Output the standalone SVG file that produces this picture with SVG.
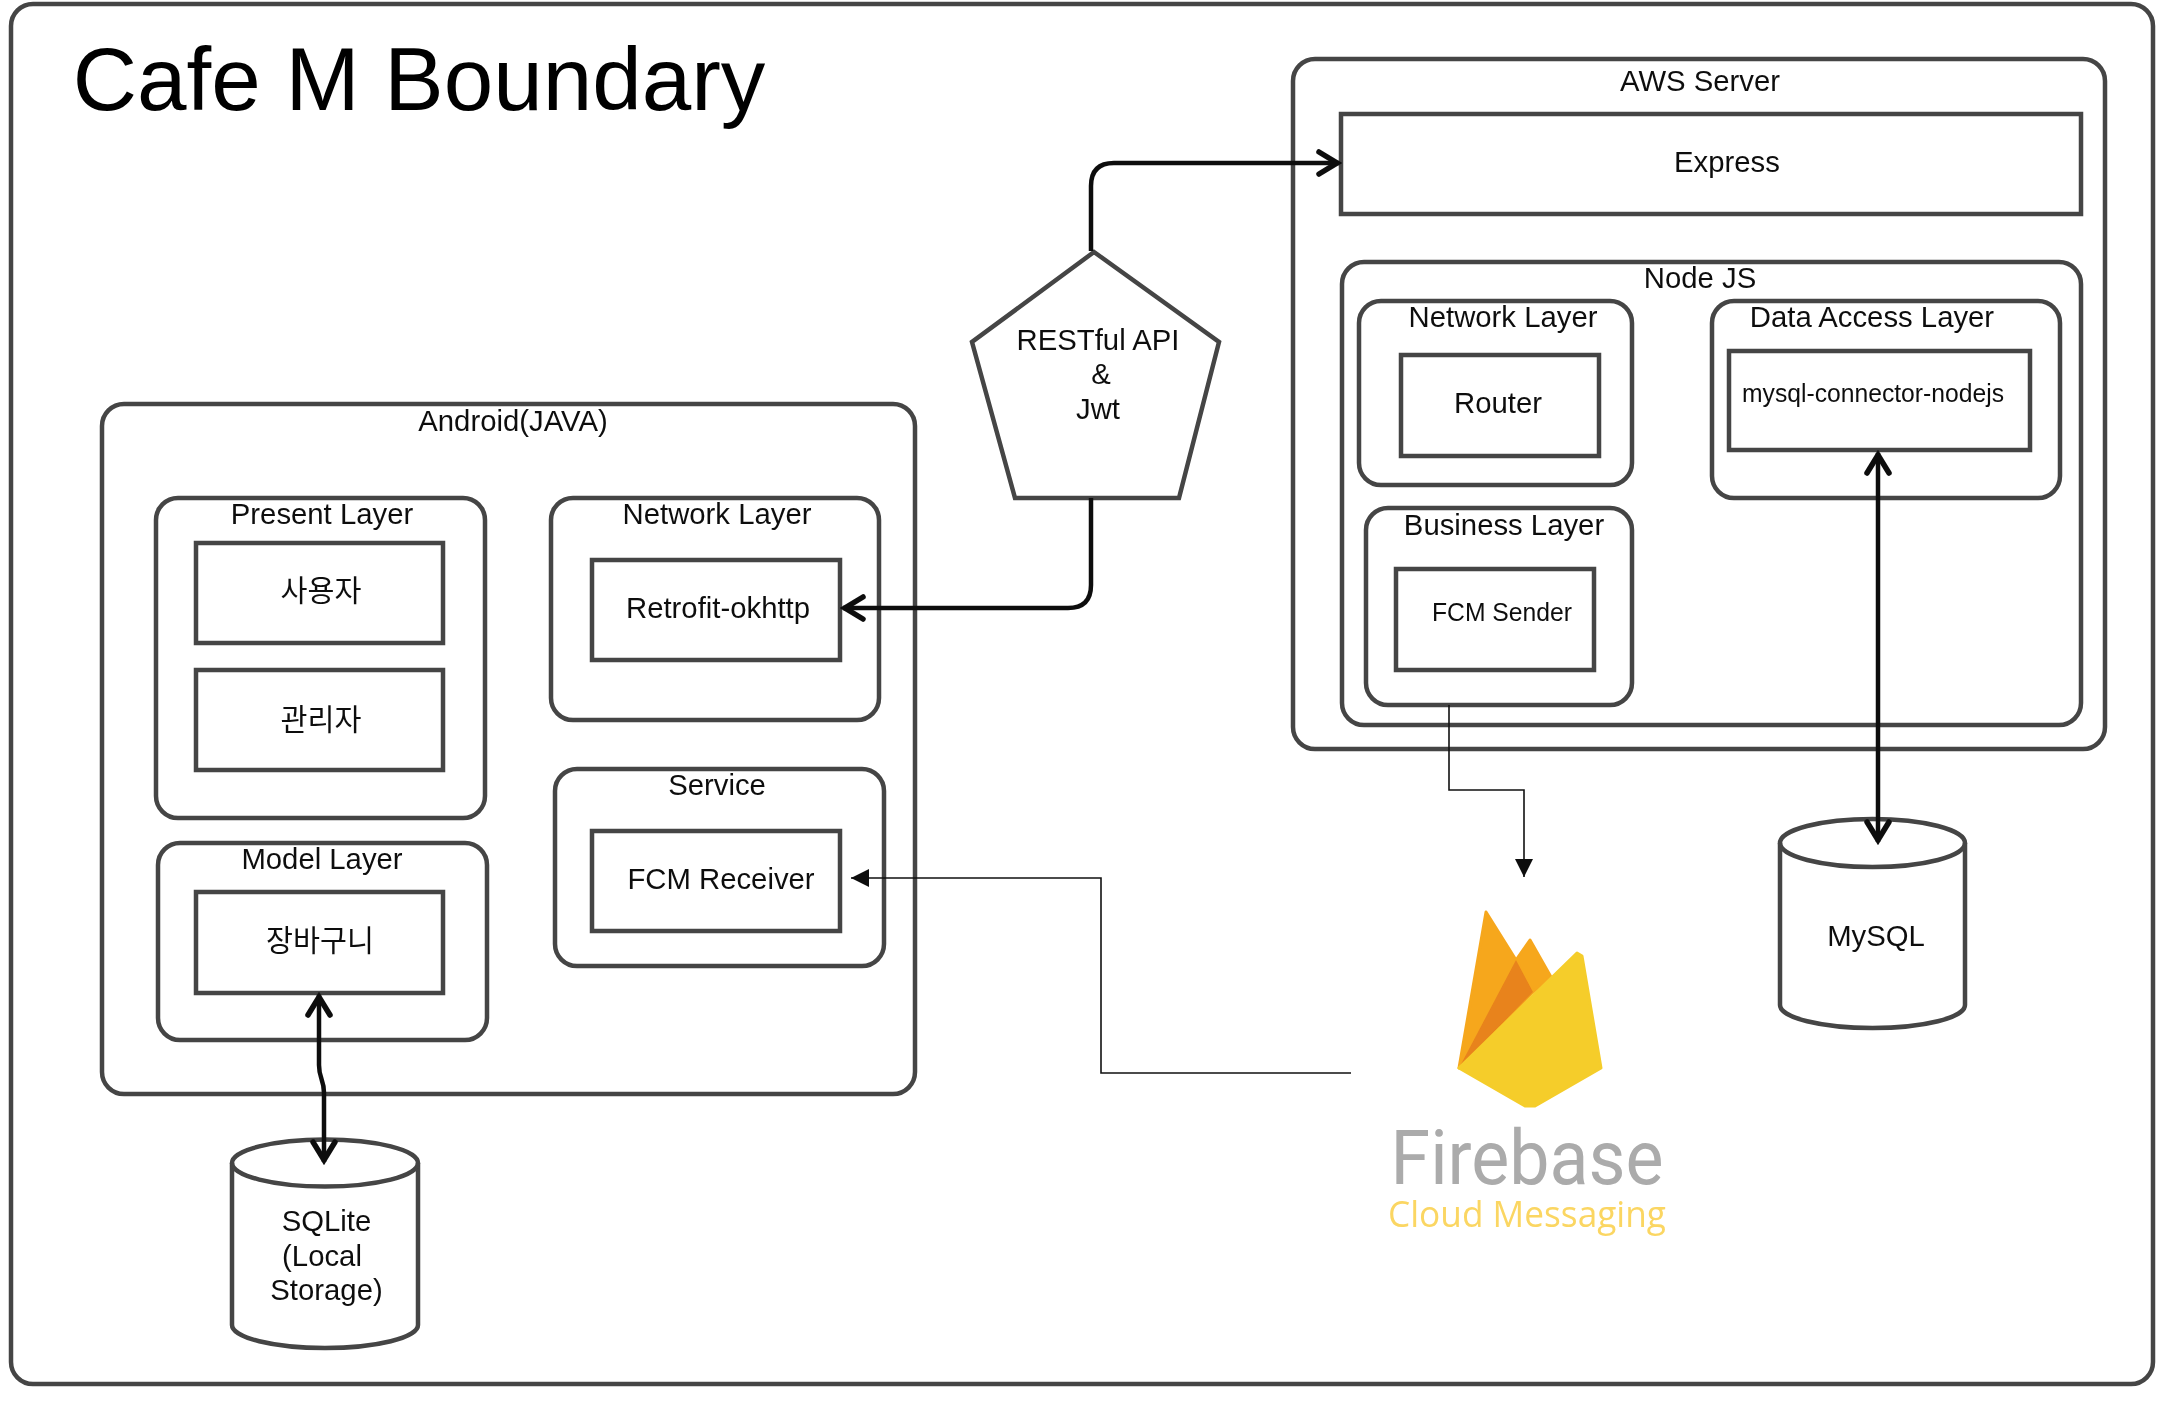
<svg xmlns="http://www.w3.org/2000/svg" width="2168" height="1404" viewBox="0 0 2168 1404">
<style>
text{font-family:"Liberation Sans","Noto Sans CJK KR",sans-serif;font-size:29.3px;fill:#111;text-anchor:middle}
.b{fill:#fff;stroke:#444;stroke-width:4.5}
.o{fill:none;stroke:#444;stroke-width:4.5}
.t{fill:none;stroke:#111;stroke-width:4.5;stroke-linejoin:round}
.n{fill:none;stroke:#111;stroke-width:1.6}
.s{font-size:25px}
</style>
<defs>
<filter id="soft" x="-2%" y="-2%" width="104%" height="104%"><feGaussianBlur stdDeviation="0.7"/></filter>
<marker id="open" markerUnits="userSpaceOnUse" markerWidth="30" markerHeight="34" refX="27" refY="16" orient="auto-start-reverse" viewBox="0 0 30 32"><path d="M7 5 L25 16 L7 27" fill="none" stroke="#111" stroke-width="5.5" stroke-linecap="round" stroke-linejoin="miter"/></marker>
<marker id="solid" markerUnits="userSpaceOnUse" markerWidth="20" markerHeight="20" refX="18" refY="9" orient="auto" viewBox="0 0 20 18"><path d="M0 0 L18 9 L0 18 Z" fill="#111"/></marker>
</defs>
<rect width="2168" height="1404" fill="#fff"/>
<g filter="url(#soft)">
<rect id="boundary" class="b" x="11" y="4" width="2142" height="1380" rx="22"/>
<g id="android"><rect class="b" x="102" y="404" width="813" height="690" rx="22"/><text x="513" y="431">Android(JAVA)</text></g>
<g id="present-layer"><rect class="b" x="156" y="498" width="329" height="320" rx="22"/><text x="322" y="524">Present Layer</text></g>
<g id="user"><rect class="b" x="196" y="543" width="247" height="100"/><text x="321" y="601">사용자</text></g>
<g id="admin"><rect class="b" x="196" y="670" width="247" height="100"/><text x="321" y="730">관리자</text></g>
<g id="model-layer"><rect class="b" x="158" y="843" width="329" height="197" rx="22"/><text x="322" y="869">Model Layer</text></g>
<g id="cart"><rect class="b" x="196" y="892" width="247" height="101"/><text x="320" y="951">장바구니</text></g>
<g id="network-layer-android"><rect class="b" x="551" y="498" width="328" height="222" rx="22"/><text x="717" y="524">Network Layer</text></g>
<g id="retrofit"><rect class="b" x="592" y="560" width="248" height="100"/><text x="718" y="618">Retrofit-okhttp</text></g>
<g id="service"><rect class="b" x="555" y="769" width="329" height="197" rx="22"/><text x="717" y="795">Service</text></g>
<g id="fcm-receiver"><rect class="b" x="592" y="831" width="248" height="100"/><text x="721" y="889">FCM Receiver</text></g>
<g id="aws"><rect class="b" x="1293" y="59" width="812" height="690" rx="22"/><text x="1700" y="91">AWS Server</text></g>
<g id="express"><rect class="b" x="1341" y="114" width="740" height="100"/><text x="1727" y="172">Express</text></g>
<g id="nodejs"><rect class="b" x="1342" y="262" width="739" height="463" rx="22"/><text x="1700" y="288">Node JS</text></g>
<g id="network-layer-node"><rect class="b" x="1359" y="301" width="273" height="184" rx="22"/><text x="1503" y="327">Network Layer</text></g>
<g id="router"><rect class="b" x="1401" y="355" width="198" height="101"/><text x="1498" y="413">Router</text></g>
<g id="data-access-layer"><rect class="b" x="1712" y="301" width="348" height="197" rx="22"/><text x="1872" y="327">Data Access Layer</text></g>
<g id="mysql-connector"><rect class="b" x="1729" y="351" width="301" height="99"/><text class="s" x="1873" y="402" textLength="262" lengthAdjust="spacingAndGlyphs">mysql-connector-nodejs</text></g>
<g id="business-layer"><rect class="b" x="1366" y="508" width="266" height="197" rx="22"/><text x="1504" y="535">Business Layer</text></g>
<g id="fcm-sender"><rect class="b" x="1396" y="569" width="198" height="101"/><text class="s" x="1502" y="621" textLength="140" lengthAdjust="spacingAndGlyphs">FCM Sender</text></g>
<g id="restful-api"><polygon class="b" points="1094,252 1219,342 1179,498 1015,498 972,342"/><text x="1098" y="350">RESTful API</text><text x="1101" y="384">&amp;</text><text x="1098" y="419">Jwt</text></g>
<g id="mysql"><path class="b" d="M1780 843 A92.500 24 0 0 1 1965 843 V1005 A92.500 23 0 0 1 1780 1005 Z"/><path class="o" d="M1780 843 A92.500 24 0 0 0 1965 843"/><text x="1876" y="946">MySQL</text></g>
<g id="sqlite"><path class="b" d="M232 1163 A93 23.500 0 0 1 418 1163 V1325 A93 23 0 0 1 232 1325 Z"/><path class="o" d="M232 1163 A93 23.500 0 0 0 418 1163"/><text x="326.500" y="1231">SQLite</text><text x="322" y="1266">(Local</text><text x="326.500" y="1300">Storage)</text></g>
<g id="connectors">
<path class="t" d="M1091 251 V186 Q1091 163 1114 163 H1339" marker-end="url(#open)"/>
<path class="t" d="M1091 498 V585 Q1091 608 1068 608 H843" marker-end="url(#open)"/>
<path class="t" d="M1878 453 V842" marker-start="url(#open)" marker-end="url(#open)"/>
<path class="t" d="M319 995 V1065 C319 1079 324 1079 324 1093 V1162" marker-start="url(#open)" marker-end="url(#open)"/>
<path class="n" d="M1449 705 V790 H1524 V877" marker-end="url(#solid)"/>
<path class="n" d="M1351 1073 H1101 V878 H851" marker-end="url(#solid)"/>
</g>
<g id="firebase">
<polygon points="1486,912 1516,960 1533,992 1459,1068" fill="#F6A71F" stroke="#F6A71F" stroke-width="3" stroke-linejoin="round"/>
<polygon points="1530,940 1551,977 1533,992 1516,960" fill="#F6A71F" stroke="#F6A71F" stroke-width="3" stroke-linejoin="round"/>
<polygon points="1516,960 1533,992 1459,1068" fill="#E8831A"/>
<polygon points="1459,1068 1577,953 1582,956 1601,1068 1535,1106 1525,1106" fill="#F5CD2B" stroke="#F5CD2B" stroke-width="3" stroke-linejoin="round"/>
<text x="1527" y="1184" style="font-family:Roboto,'Open Sans',sans-serif;font-size:76px;fill:#ABABAB" textLength="273" lengthAdjust="spacingAndGlyphs">Firebase</text>
<text x="1527" y="1227" style="font-family:'Open Sans','Noto Sans',sans-serif;font-size:37px;fill:#FBD662" textLength="278" lengthAdjust="spacingAndGlyphs">Cloud Messaging</text>
</g>
<text id="title" x="419" y="110" style="font-size:89px;fill:#000">Cafe M Boundary</text>
</g>
</svg>
